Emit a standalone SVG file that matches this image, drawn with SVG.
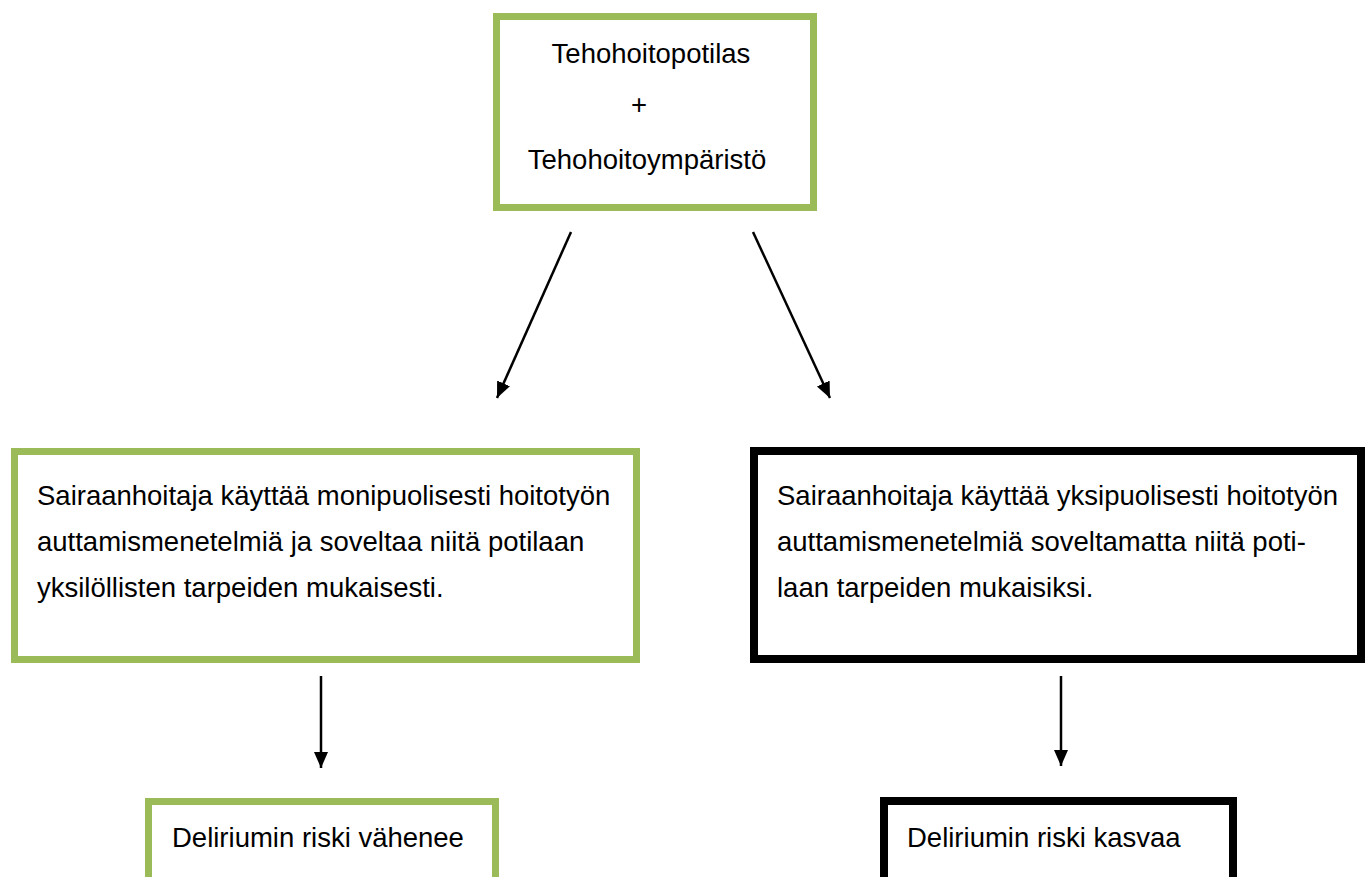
<svg xmlns="http://www.w3.org/2000/svg" width="1365" height="877" viewBox="0 0 1365 877">
  <style>
    .txt { font-family: "Liberation Sans", Arial, sans-serif; font-size: 27.5px; fill: #000; }
    .green { fill: #fff; stroke: #9BBB59; stroke-width: 7; }
    .black { fill: #fff; stroke: #000; stroke-width: 8; }
    .conn { stroke: #000; stroke-width: 2.5; fill: none; marker-end: url(#arrow); }
  </style>
  <defs>
    <marker id="arrow" markerUnits="userSpaceOnUse" markerWidth="18" markerHeight="16" refX="16" refY="7" orient="auto">
      <path d="M0,0 L16,7 L0,14 z" fill="#000"/>
    </marker>
  </defs>
  <rect width="1365" height="877" fill="#fff"/>

  <g id="node-top">
    <rect class="green" x="496.5" y="16.5" width="317" height="191"/>
    <text class="txt" x="651" y="63" text-anchor="middle">Tehohoitopotilas</text>
    <text class="txt" x="639" y="114" text-anchor="middle">+</text>
    <text class="txt" x="647" y="169" text-anchor="middle">Tehohoitoympäristö</text>
  </g>

  <g id="node-left">
    <rect class="green" x="14.5" y="451.5" width="622" height="208"/>
    <text class="txt" x="37" y="505">Sairaanhoitaja käyttää monipuolisesti hoitotyön</text>
    <text class="txt" x="37" y="551">auttamismenetelmiä ja soveltaa niitä potilaan</text>
    <text class="txt" x="37" y="597">yksilöllisten tarpeiden mukaisesti.</text>
  </g>

  <g id="node-right">
    <rect class="black" x="754" y="451" width="607" height="208"/>
    <text class="txt" x="777" y="505">Sairaanhoitaja käyttää yksipuolisesti hoitotyön</text>
    <text class="txt" x="777" y="551">auttamismenetelmiä soveltamatta niitä poti-</text>
    <text class="txt" x="777" y="597">laan tarpeiden mukaisiksi.</text>
  </g>

  <g id="node-bottom-left">
    <rect class="green" x="148.5" y="801.5" width="347" height="120"/>
    <text class="txt" x="172" y="847">Deliriumin riski vähenee</text>
  </g>

  <g id="node-bottom-right">
    <rect class="black" x="884" y="801" width="349" height="120"/>
    <text class="txt" x="907" y="847">Deliriumin riski kasvaa</text>
  </g>

  <g id="connectors">
    <line class="conn" x1="571" y1="232" x2="497" y2="398"/>
    <line class="conn" x1="753" y1="232" x2="830" y2="398"/>
    <line class="conn" x1="321" y1="676" x2="321" y2="768"/>
    <line class="conn" x1="1061" y1="676" x2="1061" y2="766"/>
  </g>
</svg>
